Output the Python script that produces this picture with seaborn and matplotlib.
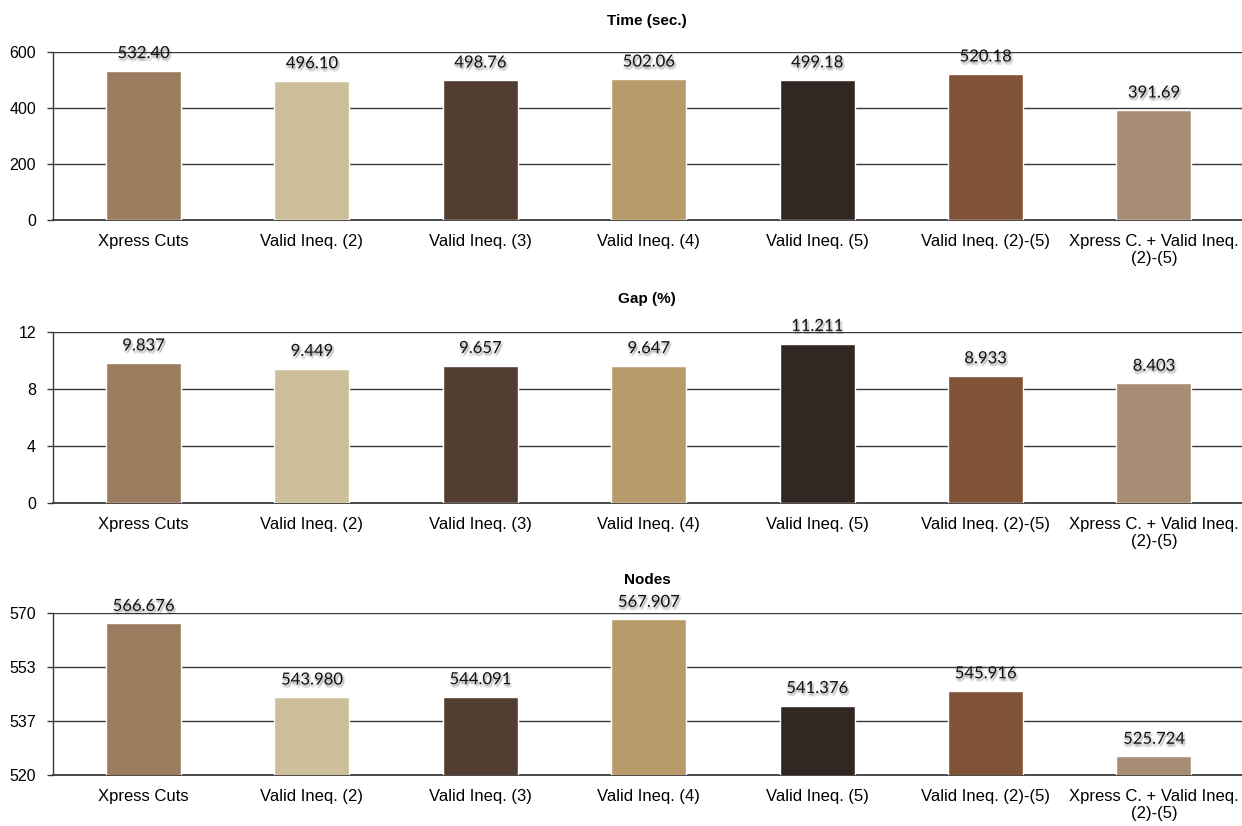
import matplotlib
matplotlib.use("Agg")
import matplotlib.pyplot as plt
import matplotlib.patheffects as pe
import seaborn as sns
import pandas as pd

# ---------------- data ----------------
categories = [
    "Xpress Cuts",
    "Valid Ineq. (2)",
    "Valid Ineq. (3)",
    "Valid Ineq. (4)",
    "Valid Ineq. (5)",
    "Valid Ineq. (2)-(5)",
    "Xpress C. + Valid Ineq.\n(2)-(5)",
]
time_values = [532.40, 496.10, 498.76, 502.06, 499.18, 520.18, 391.69]
gap_values = [9.837, 9.449, 9.657, 9.647, 11.211, 8.933, 8.403]
node_values = [566.676, 543.980, 544.091, 567.907, 541.376, 545.916, 525.724]

panel_titles = ["Time (sec.)", "Gap (%)", "Nodes"]
value_formats = ["{:.2f}", "{:.3f}", "{:.3f}"]

time_ticks = [0, 200, 400, 600]
time_tick_labels = ["0", "200", "400", "600"]
gap_ticks = [0, 4, 8, 12]
gap_tick_labels = ["0", "4", "8", "12"]
node_ticks = [520, 536.667, 553.333, 570]
node_tick_labels = ["520", "537", "553", "570"]

colors = ["#9B7C5F", "#CDBF99", "#523E31", "#B99B6B", "#322722", "#805236", "#A78D74"]

# ---------------- style ----------------
sns.set_style("white")
plt.rcParams["font.family"] = ["Liberation Sans", "DejaVu Sans"]

fig = plt.figure(figsize=(12.42, 8.26), dpi=100)

W, H = 1242.0, 826.0
left_px = 52.7
panels_px = [(51.7, 220.0), (332.3, 502.7), (612.7, 775.0)]
title_pads = [19, 21, 21]

series = [time_values, gap_values, node_values]
ticks = [time_ticks, gap_ticks, node_ticks]
tick_labels = [time_tick_labels, gap_tick_labels, node_tick_labels]

grid_color = "#3a3a3a"

# soft, blurred-looking text shadow (shadow layers only, then the text once)
shadow_offsets = [(0.0, -1.0), (1.0, -1.5), (1.5, -2.2), (-0.8, -1.6), (0.5, -2.6), (1.8, -0.8)]
text_effects = [pe.SimplePatchShadow(offset=o, shadow_rgbFace="black", alpha=0.08)
                for o in shadow_offsets] + [pe.Normal()]

for k in range(3):
    top, bot = panels_px[k]
    ax = fig.add_axes([left_px / W, 1 - bot / H, 1 - left_px / W, (bot - top) / H])
    df = pd.DataFrame({"cat": categories, "val": series[k]})
    sns.barplot(data=df, x="cat", y="val", hue="cat", hue_order=categories,
                order=categories, palette=colors, saturation=1, width=0.445,
                legend=False, ax=ax, zorder=3)
    ax.set_axisbelow(True)
    ax.set_ylim(ticks[k][0], ticks[k][-1])
    ax.set_xlim(-0.539, 6.523)
    ax.set_yticks(ticks[k])
    ax.set_yticklabels(tick_labels[k])
    ax.yaxis.grid(True, color=grid_color, linewidth=1.0)
    ax.xaxis.grid(False)
    for s in ["top", "right"]:
        ax.spines[s].set_visible(False)
    ax.spines["left"].set_color(grid_color)
    ax.spines["left"].set_linewidth(1.0)
    ax.spines["bottom"].set_color(grid_color)
    ax.spines["bottom"].set_linewidth(1.3)
    ax.tick_params(axis="y", which="major", left=True, length=4, width=1,
                   color=grid_color, pad=8, labelsize=11.5, labelcolor="black")
    ax.tick_params(axis="x", which="major", bottom=False, length=0, pad=10,
                   labelsize=12, labelcolor="black")
    ax.set_xlabel("")
    ax.set_ylabel("")
    ax.set_title(panel_titles[k], fontsize=11, fontweight="bold", color="black",
                 pad=title_pads[k])

    fmt = value_formats[k]
    for i, v in enumerate(series[k]):
        ax.annotate(fmt.format(v), xy=(i, v), xytext=(0, 12.7),
                    textcoords="offset points", ha="center", va="center",
                    fontsize=12, family=["Lato", "DejaVu Sans"], color="#111111",
                    zorder=5, annotation_clip=False,
                    path_effects=text_effects)

fig.savefig("out.png", dpi=100)
